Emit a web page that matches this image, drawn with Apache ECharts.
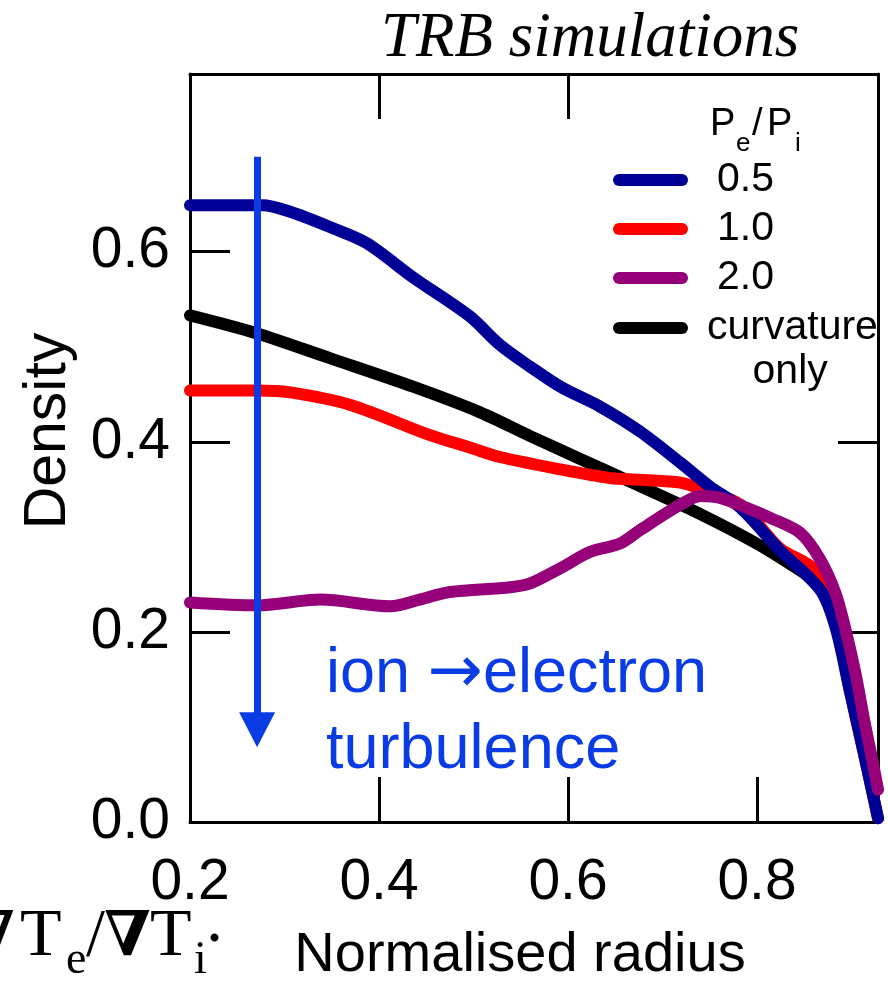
<!DOCTYPE html>
<html>
<head>
<meta charset="utf-8">
<title>TRB simulations</title>
<script src="https://cdn.jsdelivr.net/npm/echarts@6.0.0/dist/echarts.min.js"></script>
<style>
html, body { margin: 0; padding: 0; background: #fff; }
#chart { width: 888px; height: 982px; }
</style>
</head>
<body>
<div id="chart"></div>
<script>
// axis ticks
const xTicks = [0.2, 0.4, 0.6, 0.8];
const yTicks = [0, 0.2, 0.4, 0.6];
const bottomTicks = [0.4, 0.6, 0.8];
const leftTicks = [0.2, 0.4, 0.6];
const topTicks = [0.4, 0.6];
const rightTicks = [0.2, 0.4];

// Pe/Pi = 0.5
const radius05 = [0.200, 0.277, 0.306, 0.348, 0.387, 0.436, 0.496, 0.528, 0.560, 0.592, 0.634, 0.676, 0.719, 0.750, 0.782, 0.824, 0.867, 0.883, 0.898, 0.914, 0.928];
const density05 = [0.649, 0.649, 0.642, 0.626, 0.609, 0.573, 0.532, 0.502, 0.479, 0.458, 0.437, 0.411, 0.378, 0.353, 0.331, 0.286, 0.244, 0.205, 0.139, 0.068, 0.004];

// Pe/Pi = 1.0
const radius10 = [0.200, 0.271, 0.306, 0.369, 0.454, 0.496, 0.528, 0.592, 0.644, 0.676, 0.719, 0.750, 0.782, 0.824, 0.861, 0.883, 0.898, 0.914, 0.928];
const density10 = [0.454, 0.454, 0.452, 0.439, 0.407, 0.394, 0.384, 0.371, 0.362, 0.360, 0.357, 0.347, 0.334, 0.288, 0.265, 0.210, 0.139, 0.068, 0.004];

// Pe/Pi = 2.0
const radius20 = [0.200, 0.271, 0.338, 0.412, 0.443, 0.475, 0.539, 0.560, 0.592, 0.623, 0.655, 0.676, 0.719, 0.740, 0.761, 0.793, 0.814, 0.846, 0.867, 0.883, 0.893, 0.904, 0.914, 0.922, 0.928];
const density20 = [0.231, 0.228, 0.234, 0.227, 0.234, 0.242, 0.247, 0.251, 0.267, 0.284, 0.293, 0.307, 0.334, 0.343, 0.341, 0.329, 0.320, 0.304, 0.276, 0.241, 0.205, 0.157, 0.104, 0.065, 0.034];

// curvature only
const radiusCurv = [0.200, 0.271, 0.348, 0.436, 0.507, 0.560, 0.613, 0.666, 0.740, 0.803, 0.865];
const densityCurv = [0.533, 0.514, 0.488, 0.458, 0.431, 0.406, 0.382, 0.358, 0.324, 0.291, 0.252];

// blue arrow (data coords)
const arrowX = 0.271;
const arrowFrom = 0.700;
const arrowTo = 0.097;

const sans = "'Liberation Sans', Arial, sans-serif";
const serif = "'Liberation Serif', 'Times New Roman', serif";
const nablaFont = "'DejaVu Serif', serif";
const annoBlue = '#0a3ce6';

const zip = (xs, ys) => xs.map((x, i) => [x, ys[i]]);

const chart = echarts.init(document.getElementById('chart'));

const lineSeries = (name, xs, ys, color) => ({
  name: name,
  type: 'line',
  data: zip(xs, ys),
  smooth: 0.3,
  showSymbol: false,
  clip: false,
  lineStyle: { color: color, width: 12, cap: 'round', join: 'round' },
  itemStyle: { color: color }
});

const axisLine = { onZero: false, lineStyle: { color: '#000', width: 3 } };
const tick = (vals, len) => ({ inside: true, length: len, customValues: vals, lineStyle: { color: '#000', width: 3 } });

// text placed by baseline (zrender draws around the middle)
const txt = (s, x, base, size, family, extra) => ({
  type: 'text', x: x, y: base - size * 0.34, z: 10,
  style: Object.assign({ text: s, fontFamily: family, fontSize: size, fill: '#000', verticalAlign: 'middle' }, extra || {})
});

const legendIcon = 'path://M6,0H69A6,6,0,0,1,69,12H6A6,6,0,0,1,6,0Z';

const option = {
  animation: false,
  backgroundColor: '#fff',
  title: {
    text: 'TRB simulations',
    left: 376,
    top: 3,
    textStyle: { fontFamily: serif, fontStyle: 'italic', fontWeight: 'normal', fontSize: 63, color: '#000' }
  },
  grid: { left: 190, right: 10, top: 74, bottom: 160, outerBoundsMode: 'none' },
  legend: [
    {
      data: ['0.5', '1.0', '2.0'],
      orient: 'vertical',
      left: 608,
      top: 153,
      itemWidth: 75,
      itemHeight: 12,
      itemGap: 5,
      selectedMode: false,
      icon: legendIcon,
      textStyle: { fontFamily: sans, fontSize: 41, lineHeight: 44, color: '#000', padding: [0, 0, 0, 24] }
    },
    {
      data: ['curvature only'],
      orient: 'vertical',
      left: 608,
      top: 257,
      itemWidth: 75,
      itemHeight: 12,
      selectedMode: false,
      icon: legendIcon,
      formatter: () => '\ncurvature\n    only',
      textStyle: { fontFamily: sans, fontSize: 41, lineHeight: 44, color: '#000', padding: [0, 0, 0, 14] }
    }
  ],
  xAxis: [
    {
      type: 'value', min: 0.2, max: 0.928, interval: 0.2, position: 'bottom',
      axisLine: axisLine,
      axisTick: tick(bottomTicks, 45),
      splitLine: { show: false },
      axisLabel: { customValues: xTicks, formatter: v => v.toFixed(1), fontFamily: sans, fontSize: 57, color: '#000', margin: 33 },
      name: 'Normalised radius',
      nameLocation: 'middle',
      nameGap: 106,
      nameTextStyle: { fontFamily: sans, fontSize: 56, color: '#000', padding: [0, 28, 0, 0] }
    },
    {
      type: 'value', min: 0.2, max: 0.928, interval: 0.2, position: 'top',
      axisLine: axisLine,
      axisTick: tick(topTicks, 45),
      axisLabel: { show: false },
      splitLine: { show: false }
    }
  ],
  yAxis: [
    {
      type: 'value', min: 0, max: 0.787, interval: 0.2, position: 'left',
      axisLine: axisLine,
      axisTick: tick(leftTicks, 40),
      splitLine: { show: false },
      axisLabel: { customValues: yTicks, formatter: v => v.toFixed(1), fontFamily: sans, fontSize: 57, color: '#000', margin: 20 },
      name: 'Density',
      nameLocation: 'middle',
      nameGap: 112,
      nameTextStyle: { fontFamily: sans, fontSize: 59, color: '#000', padding: [0, 0, 0, 34] }
    },
    {
      type: 'value', min: 0, max: 0.787, interval: 0.2, position: 'right',
      axisLine: axisLine,
      axisTick: tick(rightTicks, 40),
      axisLabel: { show: false },
      splitLine: { show: false }
    }
  ],
  series: [
    lineSeries('curvature only', radiusCurv, densityCurv, '#000000'),
    lineSeries('1.0', radius10, density10, '#ff0000'),
    lineSeries('0.5', radius05, density05, '#000096'),
    lineSeries('2.0', radius20, density20, '#960078'),
    {
      name: 'arrow',
      type: 'line',
      data: [],
      z: 5,
      markLine: {
        silent: true,
        animation: false,
        symbol: ['none', 'triangle'],
        symbolSize: [36, 35],
        label: { show: false },
        lineStyle: { color: annoBlue, width: 7, type: 'solid' },
        data: [[{ coord: [arrowX, arrowFrom] }, { coord: [arrowX, arrowTo] }]]
      }
    }
  ],
  graphic: [
    {
      type: 'text', left: 326, top: 642, z: 10,
      style: {
        text: '{t|ion }{a|\u2192}{t|electron}\n{t|turbulence}',
        rich: {
          t: { fontFamily: sans, fontSize: 63, lineHeight: 76, fill: annoBlue },
          a: { fontFamily: "'DejaVu Sans', sans-serif", fontSize: 66, lineHeight: 76, fill: annoBlue }
        }
      }
    },
    // Pe/Pi legend title
    txt('P', 710, 137, 38, sans),
    txt('e', 736, 153, 26, sans),
    txt('/', 752, 137, 38, sans),
    txt('P', 767, 137, 38, sans),
    txt('i', 795, 153, 26, sans),
    // grad Te / grad Ti. (clipped at left edge)
    txt('\u2207', -28, 960, 62, nablaFont),
    txt('T', 20, 960, 68, serif),
    txt('e', 66, 977, 46, serif),
    txt('/', 86, 960, 68, serif),
    txt('\u2207', 104, 960, 62, nablaFont, { fontWeight: 'bold' }),
    txt('T', 150, 960, 68, serif),
    txt('i', 194, 977, 46, serif),
    txt('.', 206, 946, 68, serif)
  ]
};

chart.setOption(option);
window.addEventListener('resize', () => chart.resize());
</script>
</body>
</html>
